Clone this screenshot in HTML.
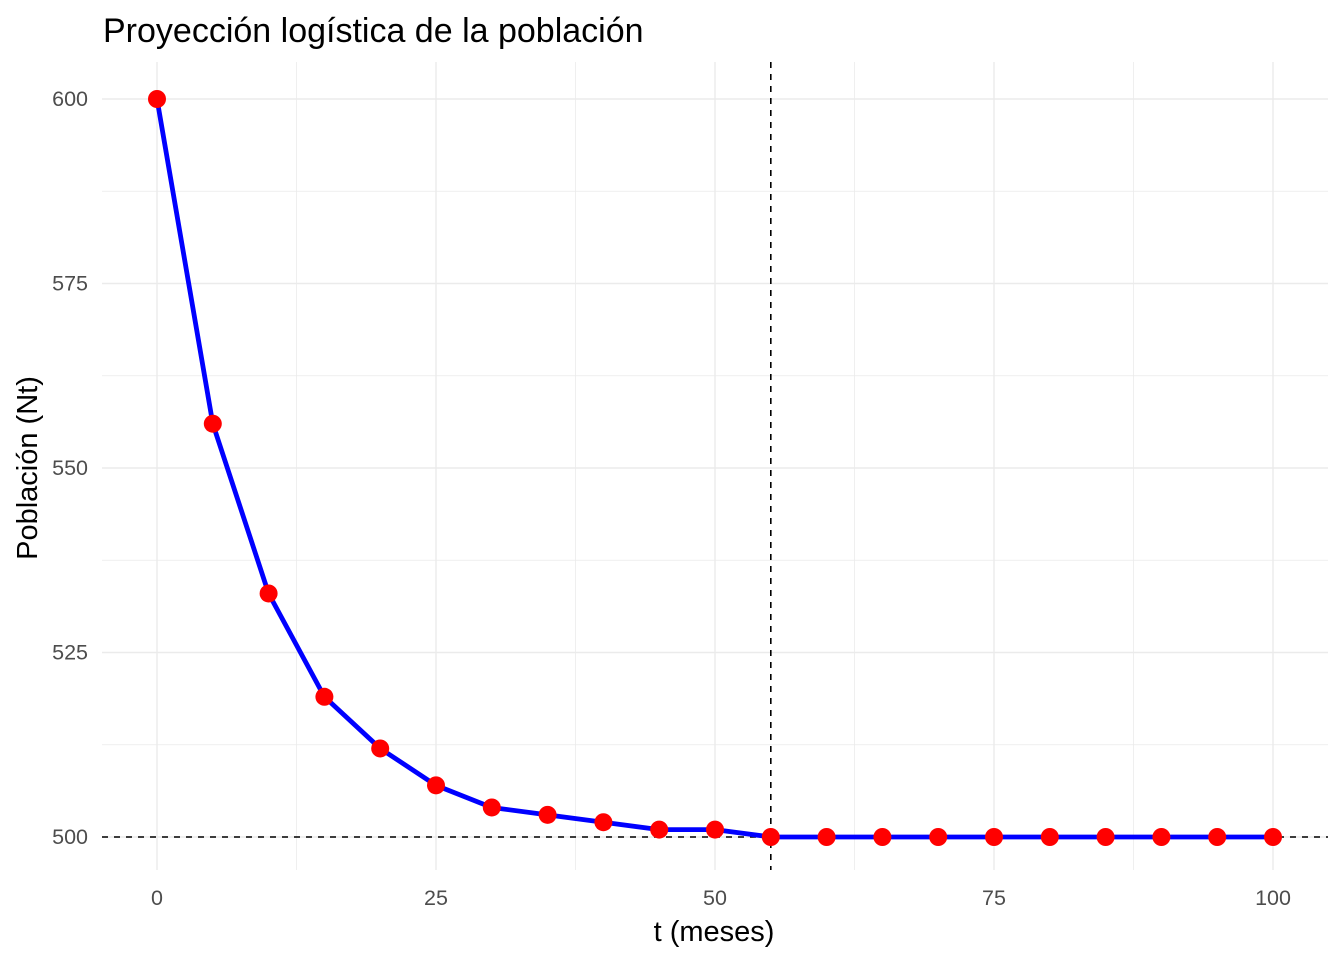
<!DOCTYPE html>
<html><head><meta charset="utf-8"><style>
body{margin:0;background:#fff;}
svg text{font-family:"Liberation Sans",sans-serif;}
</style></head><body>
<svg id="chart" width="1344" height="960" xmlns="http://www.w3.org/2000/svg">
<rect width="1344" height="960" fill="#fff"/>
<text x="103" y="42" font-size="34" fill="#000">Proyección logística de la población</text>
<g id="grid"></g>
<g id="ref"></g>
<g id="series"></g>
<g id="axes"></g>
<text x="714" y="941" font-size="29" text-anchor="middle" fill="#000">t (meses)</text>
<text transform="translate(37,468) rotate(-90)" font-size="29" text-anchor="middle" fill="#000">Población (Nt)</text>
</svg>
<script>
const tValues=[0,5,10,15,20,25,30,35,40,45,50,55,60,65,70,75,80,85,90,95,100];
const popValues=[600,556,533,519,512,507,504,503,502,501,501,500,500,500,500,500,500,500,500,500,500];
const xTicks=[0,25,50,75,100];
const yTicks=[500,525,550,575,600];
const vLineT=55;
const hLineN=500;
const NS="http://www.w3.org/2000/svg";
const X=v=>157+(v-0)*(1273-157)/100;
const Y=v=>837-(v-500)*(837-99)/100;
const L=102,R=1328,T=62,B=870;
function mk(tag,attrs,parent){const e=document.createElementNS(NS,tag);for(const k in attrs)e.setAttribute(k,attrs[k]);document.getElementById(parent).appendChild(e);return e;}
for(let v=-12.5;v<=112.5;v+=12.5){const x=X(v);if(x<L||x>R)continue;const major=xTicks.includes(v);
const g=mk('line',{x1:x,x2:x,y1:T,y2:B,stroke:'#ebebeb','stroke-width':major?1.4:0.8},'grid');

}
for(let v=487.5;v<=612.5;v+=12.5){const y=Y(v);if(y<T||y>B)continue;const major=yTicks.includes(v);
const g=mk('line',{x1:L,x2:R,y1:y,y2:y,stroke:'#ebebeb','stroke-width':major?1.4:0.8},'grid');

}
xTicks.forEach(v=>{const t=mk('text',{x:X(v),y:905,'font-size':21.5,'text-anchor':'middle',fill:'#4d4d4d'},'axes');t.textContent=v;

});
yTicks.forEach(v=>{const t=mk('text',{x:88,y:Y(v)+7,'font-size':21.5,'text-anchor':'end',fill:'#4d4d4d'},'axes');t.textContent=v;

});
const hl=mk('line',{x1:L,x2:R,y1:Y(hLineN),y2:Y(hLineN),stroke:'#000','stroke-width':1.6,'stroke-dasharray':'6,6'},'ref');


const vl=mk('line',{x1:X(vLineT),x2:X(vLineT),y1:T,y2:B,stroke:'#000','stroke-width':1.6,'stroke-dasharray':'6,6'},'ref');


const pts=tValues.map((t,i)=>X(t)+','+Y(popValues[i])).join(' ');
const pl=mk('polyline',{points:pts,fill:'none',stroke:'#0000ff','stroke-width':4.8,'stroke-linejoin':'round'},'series');


tValues.forEach((t,i)=>{const c=mk('circle',{cx:X(t),cy:Y(popValues[i]),r:9,fill:'#ff0000'},'series');

});
</script>
</body></html>
